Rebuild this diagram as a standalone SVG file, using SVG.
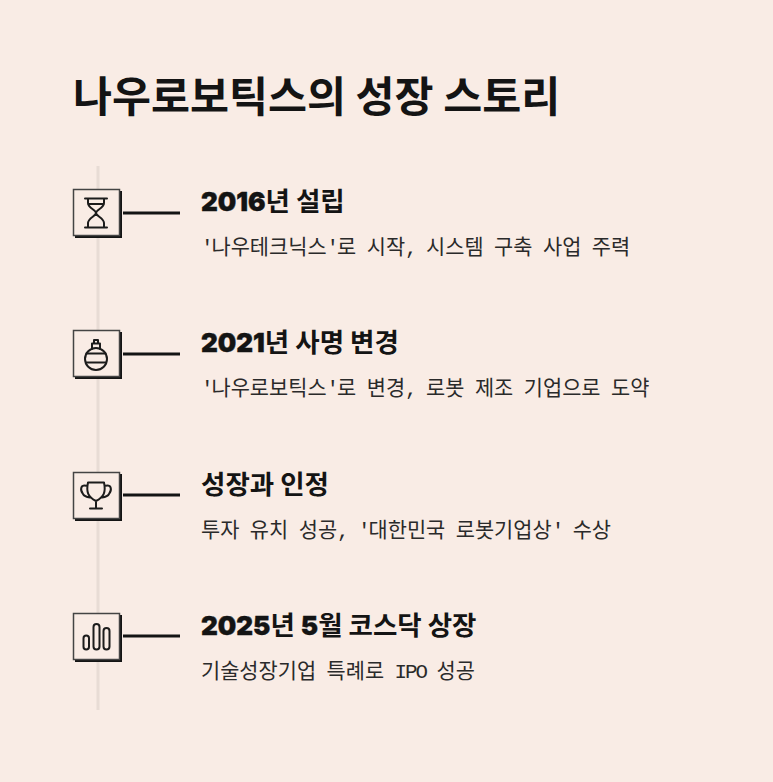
<svg xmlns="http://www.w3.org/2000/svg" width="773" height="782" viewBox="0 0 773 782">
<style>
.t{font-family:"Noto Sans CJK KR","Noto Sans",sans-serif;font-weight:700;font-size:42.4px;fill:#141414}
.h{font-family:"Noto Sans CJK KR",sans-serif;font-weight:700;font-size:26.500px;fill:#141414}
.n{font-family:Inter,sans-serif;font-weight:900;font-size:26px;stroke:#141414;stroke-width:.4}
.d{font-family:"Liberation Mono","Noto Sans CJK KR",monospace;font-size:20.850px;word-spacing:-2.010px;fill:#2a2a2a}
.m{letter-spacing:-2.010px}
.box{fill:#f9ece5;stroke:#444;stroke-width:1.5}
.sh{fill:#141414}
.i{fill:none;stroke:#1c1c1c;stroke-width:2;stroke-linecap:round;stroke-linejoin:round}
.c{stroke:#141414;stroke-width:3;fill:none}
</style>
<rect width="773" height="782" fill="#f9ece5"/>
<text class="t" x="73" y="112">나우로보틱스의 성장 스토리</text>
<g id="connectors">
<line x1="98" y1="166" x2="98" y2="710" stroke="#e8dcd5" stroke-width="3"/>
<line class="c" x1="123" y1="213" x2="180" y2="213"/>
<line class="c" x1="123" y1="354" x2="180" y2="354"/>
<line class="c" x1="123" y1="495" x2="180" y2="495"/>
<line class="c" x1="123" y1="636" x2="180" y2="636"/>
</g>
<g id="node1">
<rect class="sh" x="75" y="191" width="47" height="47"/><rect class="box" x="73.500" y="189.500" width="46" height="46"/>
<path class="i" d="M85 198.500H107M85 227.500H107M88 198.500V203C88 208 96 210 96 213C96 216 88 218 88 223V227.500M104 198.500V203C104 208 96 210 96 213C96 216 104 218 104 223V227.500M88 204H104"/>
<text class="h" x="201" y="211"><tspan class="n">2016</tspan>년 설립</text>
<text class="d" x="201" y="254"><tspan class="m">'</tspan>나우테크닉스<tspan class="m">'</tspan>로 시작<tspan class="m">,</tspan> 시스템 구축 사업 주력</text>
</g>
<g id="node2">
<rect class="sh" x="75" y="332" width="47" height="47"/><rect class="box" x="73.500" y="330.500" width="46" height="46"/>
<path class="i" d="M92 349V343.500H100V349M94 343.500V340H98V343.500M86.500 353.500H105.500M86 362.500H106"/><circle class="i" cx="96" cy="359" r="11"/>
<text class="h" x="201" y="352"><tspan class="n">2021</tspan>년 사명 변경</text>
<text class="d" x="201" y="395"><tspan class="m">'</tspan>나우로보틱스<tspan class="m">'</tspan>로 변경<tspan class="m">,</tspan> 로봇 제조 기업으로 도약</text>
</g>
<g id="node3">
<rect class="sh" x="75" y="474" width="47" height="47"/><rect class="box" x="73.500" y="472.500" width="46" height="46"/>
<path class="i" d="M88 482.500H104C106 492 104 497 96 501C88 497 86 492 88 482.500ZM87.500 486C80 484 80 490 83 494C84 496 87 497 90 497.500M104.500 486C112 484 112 490 109 494C108 496 105 497 102 497.500M96 501V508.500M90 508.500H102"/>
<text class="h" x="201" y="494">성장과 인정</text>
<text class="d" x="201" y="537">투자 유치 성공<tspan class="m">,</tspan> <tspan class="m">'</tspan>대한민국 로봇기업상<tspan class="m">'</tspan> 수상</text>
</g>
<g id="node4">
<rect class="sh" x="75" y="615" width="47" height="47"/><rect class="box" x="73.500" y="613.500" width="46" height="46"/>
<rect class="i" x="83.500" y="635.500" width="5.500" height="14" rx="2.750"/><rect class="i" x="93.500" y="624" width="6" height="25.500" rx="3"/><rect class="i" x="103.500" y="628" width="6" height="21.500" rx="3"/>
<text class="h" x="201" y="635"><tspan class="n">2025</tspan>년 <tspan class="n">5</tspan>월 코스닥 상장</text>
<text class="d" x="201" y="678">기술성장기업 특례로 <tspan class="m">IPO</tspan> 성공</text>
</g>
</svg>
